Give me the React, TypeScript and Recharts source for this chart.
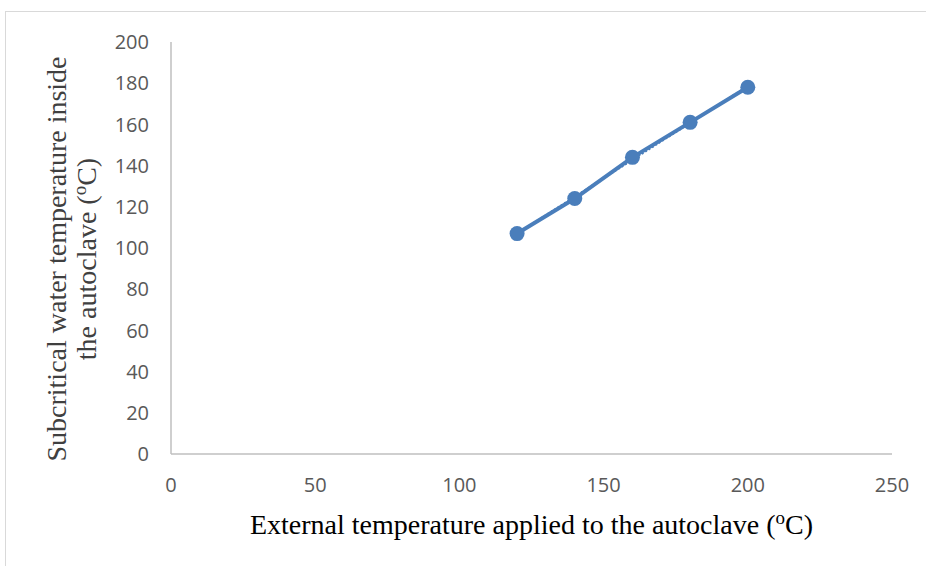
import React from 'react';
import { ComposedChart, Line, XAxis, YAxis, Label } from 'recharts';

const externalTemp = [120, 140, 160, 180, 200];
const insideTemp = [107, 124, 144, 161, 178];
const trendExternal = [120, 200];
const trendInside = [107, 178.6];
const xTicks = [0, 50, 100, 150, 200, 250];
const yTicks = [0, 20, 40, 60, 80, 100, 120, 140, 160, 180, 200];

const points = externalTemp.map((x, i) => ({ x, y: insideTemp[i] }));
const trend = trendExternal.map((x, i) => ({ x, t: trendInside[i] }));

const blue = '#4a7ebb';
const tickStyle = { fill: '#595959', fontSize: 20, fontFamily: 'Open Sans, Liberation Sans, sans-serif' };
const serif = 'Liberation Serif, Times New Roman, serif';

const YTitle = (props: any) => {
  const vb = props.viewBox || {};
  const cy = vb.y + vb.height / 2 + 11;
  return (
    <g transform={`translate(0, ${cy}) rotate(-90)`}>
      <text x={0} y={66} textAnchor="middle" fill="#404040" fontFamily={serif} fontSize={28}>
        Subcritical water temperature inside
      </text>
      <text x={0} y={96} textAnchor="middle" fill="#404040" fontFamily={serif} fontSize={28}>
        the autoclave (<tspan fontSize={19} dy={-10}>o</tspan><tspan dy={10}>C)</tspan>
      </text>
    </g>
  );
};

const XTitle = (props: any) => {
  const vb = props.viewBox || {};
  const cx = vb.x + vb.width / 2;
  return (
    <text x={cx} y={534} textAnchor="middle" fill="#000" fontFamily={serif} fontSize={28}>
      External temperature applied to the autoclave (<tspan fontSize={19} dy={-10}>o</tspan><tspan dy={10}>C)</tspan>
    </text>
  );
};

const App = () => {
  return (
    <div style={{ position: 'fixed', left: 0, top: 0, width: 926, height: 566, overflow: 'hidden', background: '#fff' }}>
      <div style={{ position: 'absolute', left: 5, top: 11, width: 960, height: 600, border: '1.5px solid #d9d9d9' }} />
      <div style={{ position: 'absolute', left: 0, top: 0 }}>
        <ComposedChart width={926} height={566} margin={{ top: 42, right: 34, bottom: 82, left: 111 }}>
          <XAxis
            dataKey="x"
            type="number"
            domain={[0, 250]}
            ticks={xTicks}
            tickLine={false}
            tickMargin={18}
            height={30}
            stroke="#bfbfbf"
            strokeWidth={1.5}
            tick={tickStyle}
            allowDuplicatedCategory={false}
          >
            <Label content={<XTitle />} />
          </XAxis>
          <YAxis
            type="number"
            domain={[0, 200]}
            ticks={yTicks}
            tickLine={false}
            tickMargin={16}
            width={60}
            stroke="#bfbfbf"
            strokeWidth={1.5}
            tick={tickStyle}
          >
            <Label content={<YTitle />} />
          </YAxis>
          <Line
            data={trend}
            dataKey="t"
            stroke={blue}
            strokeWidth={2}
            strokeDasharray="2 2"
            dot={false}
            activeDot={false}
            isAnimationActive={false}
          />
          <Line
            data={points}
            dataKey="y"
            stroke={blue}
            strokeWidth={4}
            dot={{ r: 7.5, fill: blue, stroke: blue, strokeWidth: 0 }}
            activeDot={false}
            isAnimationActive={false}
          />
        </ComposedChart>
      </div>
    </div>
  );
};

export default App;
